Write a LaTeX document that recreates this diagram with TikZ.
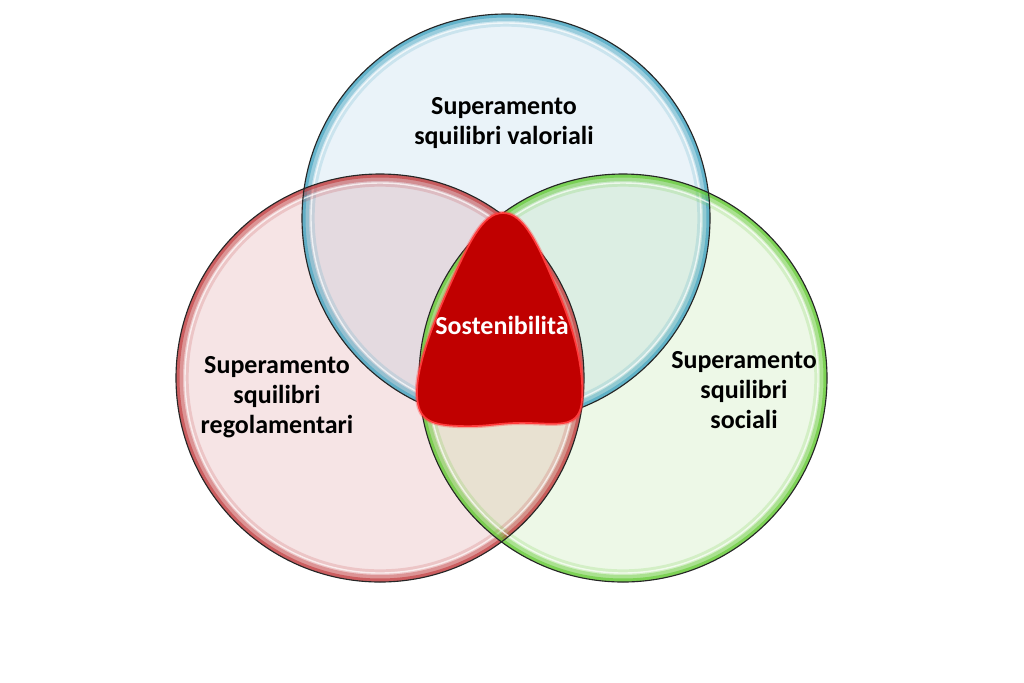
\documentclass[tikz,border=0pt]{standalone}
\usepackage{fontspec}
\setmainfont{Carlito}
\definecolor{bfill}{HTML}{EAF3F9}
\definecolor{rfill}{HTML}{F6E4E5}
\definecolor{gfill}{HTML}{EDF8E7}
\definecolor{brfill}{HTML}{E4DAE0}
\definecolor{bgfill}{HTML}{DCEEE3}
\definecolor{rgfill}{HTML}{E8E1D1}
\definecolor{brim}{HTML}{3FA3C0}
\definecolor{rrim}{HTML}{C0393B}
\definecolor{grim}{HTML}{5FC82F}
\definecolor{blob}{HTML}{C00000}
\definecolor{blobedge}{HTML}{FF3B3B}
\newcommand\myrim[2]{%
  \begin{scope}
    \clip (#1) circle (204);
    \draw[#2, line width=18pt, opacity=0.18] (#1) circle (204);
    \draw[#2, line width=10pt, opacity=0.35] (#1) circle (204);
    \draw[#2, line width=5pt, opacity=0.6] (#1) circle (204);
    \draw[white, line width=1pt, opacity=0.7] (#1) circle (195);
  \end{scope}}
\tikzset{
  lbl/.style={align=center, font=\fontsize{18.5}{21.5}\selectfont\bfseries, text=black},
  outline/.style={draw=black!85, line width=0.8pt}
}
\begin{document}
\begin{tikzpicture}[x=0.7113pt, y=-0.7113pt]
\useasboundingbox (0,0) rectangle (1024,682);
\fill[white] (0,0) rectangle (1024,682);
\coordinate (B) at (506,218);
\coordinate (R) at (380,378);
\coordinate (G) at (623,378);
% fills
\fill[bfill] (B) circle (204);
\fill[rfill] (R) circle (204);
\fill[gfill] (G) circle (204);
\begin{scope}\clip (B) circle (204); \fill[brfill] (R) circle (204); \end{scope}
\begin{scope}\clip (B) circle (204); \fill[bgfill] (G) circle (204); \end{scope}
\begin{scope}\clip (R) circle (204); \fill[rgfill] (G) circle (204); \end{scope}
% rims
\myrim{B}{brim}
\myrim{R}{rrim}
\myrim{G}{grim}
\draw[outline] (B) circle (204);
\draw[outline] (R) circle (204);
\draw[outline] (G) circle (204);
% central shape
\draw[blobedge, line width=3pt, opacity=0.35, fill=blob]
  (503,213) .. controls (482,213) and (468,245) .. (450,285)
  .. controls (430,330) and (416,370) .. (417,395)
  .. controls (418,420) and (430,425) .. (460,426)
  .. controls (490,427) and (500,422) .. (530,423)
  .. controls (560,424) and (580,428) .. (582,400)
  .. controls (584,370) and (575,330) .. (555,285)
  .. controls (538,245) and (524,213) .. (503,213) -- cycle;
\draw[blobedge, line width=1.2pt, fill=blob]
  (503,213) .. controls (482,213) and (468,245) .. (450,285)
  .. controls (430,330) and (416,370) .. (417,395)
  .. controls (418,420) and (430,425) .. (460,426)
  .. controls (490,427) and (500,422) .. (530,423)
  .. controls (560,424) and (580,428) .. (582,400)
  .. controls (584,370) and (575,330) .. (555,285)
  .. controls (538,245) and (524,213) .. (503,213) -- cycle;
% labels
\node[lbl] (tb) at (504,123) {Superamento\\squilibri valoriali};
\node[lbl] (tr) at (277,397) {Superamento\\squilibri\\regolamentari};
\node[lbl] (tg) at (744,390) {Superamento\\squilibri\\sociali};
\node[lbl, text=white] (ts) at (502,325) {Sostenibilità};
\end{tikzpicture}
\end{document}
